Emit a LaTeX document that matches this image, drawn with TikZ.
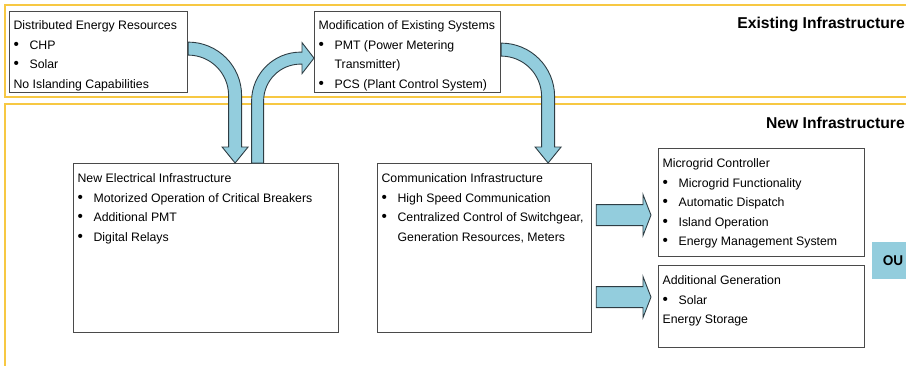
\documentclass[tikz,border=0pt]{standalone}
\usepackage{fontspec}
\setmainfont{Liberation Sans}
\newfontfamily\calibrifont{Carlito}
\usetikzlibrary{calc}
\definecolor{FrameYellow}{HTML}{F7C843}
\definecolor{ArrowFill}{HTML}{93CDDD}
\definecolor{ArrowLine}{HTML}{2E3D44}
\definecolor{BoxLine}{HTML}{4A4A4A}

\newcommand{\boxfont}{\fontsize{12.3pt}{19.5pt}\selectfont}
% box text: heading line, bullet item, bullet item over two lines
\newcommand{\dotmark}{\makebox[16pt][l]{\scalebox{1.25}{\textbullet}}}
\newcommand{\hd}[1]{\noindent\mbox{#1}\par}
\newcommand{\itm}[1]{\noindent\hangindent=16pt\hangafter=1\dotmark\mbox{#1}\par}
\newcommand{\itmm}[2]{\noindent\hangindent=16pt\hangafter=1\dotmark\mbox{#1}\\\mbox{#2}\par}

% fat arrow: leaves a box sideways, bends down into the box below
\newcommand{\bentdown}[2]{%
  \draw[block] let \p1=(#1), \p2=(#2), \n1={\x2-\x1} in
    (\x1,\y1+6.5pt) arc[start angle=90, end angle=0, radius=\n1+6.5pt]
    -- (\x2+6.5pt,\y2+16pt) -- (\x2+13pt,\y2+16pt) -- (#2)
    -- (\x2-13pt,\y2+16pt) -- (\x2-6.5pt,\y2+16pt)
    -- (\x2-6.5pt,\y1-\n1) arc[start angle=0, end angle=90, radius=\n1-6.5pt]
    -- cycle;}
% fat straight arrow
\newcommand{\hblock}[2]{%
  \draw[block] ($(#1)+(0,10.5)$) -- ($(#2)+(-8,10.5)$) -- ($(#2)+(-8,20.5)$) -- (#2)
    -- ($(#2)+(-8,-20.5)$) -- ($(#2)+(-8,-10.5)$) -- ($(#1)+(0,-10.5)$) -- cycle;}

\begin{document}
\begin{tikzpicture}[x=1pt, y=1pt,
    frame/.style={draw=FrameYellow, line width=1.3pt},
    tier/.style={font=\fontsize{15.7pt}{18pt}\selectfont\bfseries, inner sep=0pt},
    infobox/.style={draw=BoxLine, line width=1.2pt, fill=white, anchor=north west,
                    inner xsep=4pt, inner ysep=0pt, text height=19pt, font=\boxfont},
    block/.style={draw=ArrowLine, line width=0.9pt, fill=ArrowFill, line join=miter},
    outbox/.style={fill=ArrowFill, anchor=west, minimum height=37pt, inner xsep=11pt,
                   text width=30pt, align=left,
                   font=\calibrifont\fontsize{15pt}{17pt}\selectfont\bfseries}
]
\useasboundingbox (0,0) rectangle (906,-365);
\clip (0,0) rectangle (906,-365);

% ===================================================================
% BANDS
% ===================================================================
\draw[frame] (915,-5) -| (5,-97) -- (915,-97);
\draw[frame] (915,-104) -| (5,-370);
\node[tier, anchor=base east] (existing) at (905,-28) {Existing Infrastructure};
\node[tier, anchor=base east] (newinfra) at (905,-128) {New Infrastructure};

% ===================================================================
% EXISTING
% ===================================================================
\node[infobox, text height=18pt, text depth=63pt] (der) at (9,-11)
    {\parbox[t]{170pt}{\hd{Distributed Energy Resources}\itm{CHP}\itm{Solar}%
     \hd{No Islanding Capabilities}}};
\node[infobox, text height=18pt, text depth=63pt] (mod) at (314,-11)
    {\parbox[t]{178pt}{\hd{Modification of Existing Systems}%
     \itmm{PMT (Power Metering}{Transmitter)}\itm{PCS (Plant Control System)}}};

% ===================================================================
% NEW
% ===================================================================
\node[infobox, text depth=150pt] (newelec) at (73,-163)
    {\parbox[t]{257pt}{\hd{New Electrical Infrastructure}%
     \itm{Motorized Operation of Critical Breakers}\itm{Additional PMT}\itm{Digital Relays}}};
\node[infobox, text depth=150pt] (comm) at (377,-163)
    {\parbox[t]{206pt}{\hd{Communication Infrastructure}\itm{High Speed Communication}%
     \itmm{Centralized Control of Switchgear,}{Generation Resources, Meters}}};
\node[infobox, text depth=89pt] (mgc) at (658,-148)
    {\parbox[t]{198pt}{\hd{Microgrid Controller}\itm{Microgrid Functionality}%
     \itm{Automatic Dispatch}\itm{Island Operation}\itm{Energy Management System}}};
\node[infobox, text depth=63pt] (addgen) at (658,-265)
    {\parbox[t]{198pt}{\hd{Additional Generation}\itm{Solar}\hd{Energy Storage}}};

\node[outbox] (out) at (872,-260.5) {OU};

% ===================================================================
% ARROWS
% ===================================================================
\coordinate (derout) at ($(der.east)+(0,3.5)$);
\coordinate (elecin) at ($(newelec.north)+(29,0)$);
\bentdown{derout}{elecin}

\coordinate (elecout) at ($(newelec.north)+(51.5,0)$);
\coordinate (modin) at ($(mod.west)+(0,-6)$);
\draw[block] let \p1=(elecout), \p2=(modin) in
    (\x1-6pt,\y1) -- (\x1-6pt,\y2-43pt) arc[start angle=180, end angle=90, radius=49pt]
    -- (\x2-12pt,\y2+6pt) -- (\x2-12pt,\y2+15.5pt) -- (modin)
    -- (\x2-12pt,\y2-15.5pt) -- (\x2-12pt,\y2-6pt)
    -- (\x1+43pt,\y2-6pt) arc[start angle=90, end angle=180, radius=37pt]
    -- (\x1+6pt,\y1) -- cycle;

\coordinate (modout) at ($(mod.east)+(0,2.5)$);
\coordinate (commin) at ($(comm.north)+(63.5,0)$);
\bentdown{modout}{commin}

% Communication feeds controller and generation
\coordinate (gridin) at ($(mgc.west)+(-7,-12.5)$);
\coordinate (commout1) at ($(comm.east |- gridin)+(4,0)$);
\hblock{commout1}{gridin}
\coordinate (genin) at ($(addgen.west)+(-7,9.5)$);
\coordinate (commout2) at ($(comm.east |- genin)+(4,0)$);
\hblock{commout2}{genin}

\end{tikzpicture}
\end{document}
